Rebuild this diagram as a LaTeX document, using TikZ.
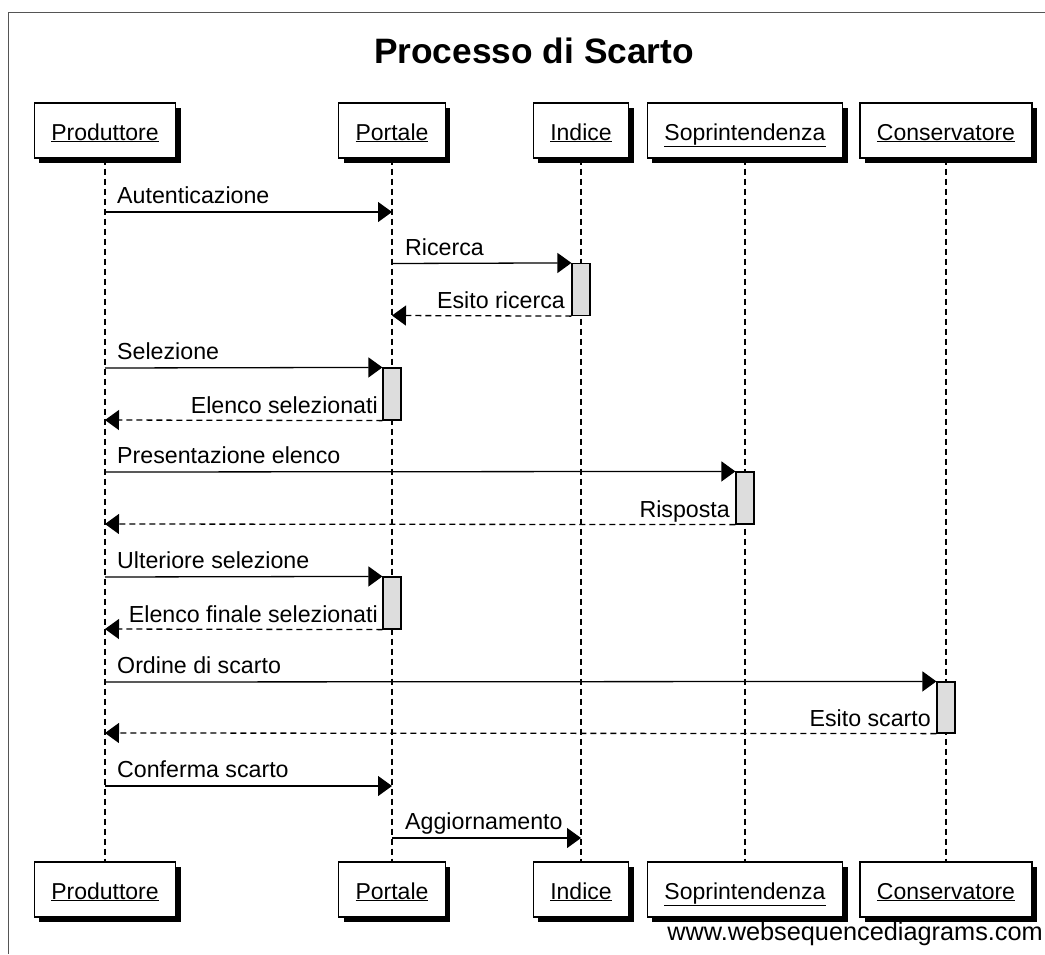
\documentclass[tikz,border=0pt]{standalone}
\usepackage{fontspec}
\setmainfont{Liberation Sans}
\usetikzlibrary{arrows.meta,shadows}
\definecolor{actfill}{HTML}{DDDDDD}
\definecolor{framec}{HTML}{555555}
\begin{document}
\begin{tikzpicture}[x=1pt,y=-1pt,
  actor/.style={draw=black, line width=1.2pt, fill=white, minimum height=55pt, inner xsep=17pt, inner ysep=0pt,
    text height=21pt, text depth=2pt,
    font=\fontsize{23}{27}\selectfont,
    drop shadow={shadow xshift=5pt, shadow yshift=-5pt, fill=black, opacity=1}},
  life/.style={line width=1.2pt, dash pattern=on 6pt off 4pt},
  act/.style={draw=black, line width=1.2pt, fill=actfill, minimum width=18pt, inner sep=0pt},
  msg/.style={line width=1.3pt, -{Triangle[length=14pt,width=20pt]}},
  ret/.style={msg, dash pattern=on 6pt off 4pt},
  lbl/.style={font=\fontsize{23.2}{27}\selectfont, inner sep=0pt, anchor=base west},
  rlbl/.style={lbl, anchor=base east},
  framel/.style={draw=framec, line width=1pt},
]
\useasboundingbox (0,0) rectangle (1045,954);
% frame
\coordinate (fTL) at (8,12);
\coordinate (fTR) at (1045,12);
\coordinate (fBL) at (8,954);
\draw[framel] (fTR) -- (fTL) -- (fBL);

% title
\node[font=\bfseries\fontsize{35.3}{40}\selectfont, anchor=base, inner sep=0pt] (title) at (534,63) {Processo di Scarto};

% actors top
\node[actor] (pT) at (105,130.5) {\underline{Produttore}};
\node[actor] (poT) at (392,130.5) {\underline{Portale}};
\node[actor] (iT) at (581,130.5) {\underline{Indice}};
\node[actor] (sT) at (745,130.5) {\underline{Soprintendenza}};
\node[actor] (cT) at (946,130.5) {\underline{Conservatore}};
% actors bottom
\node[actor] (pB) at (105,889.5) {\underline{Produttore}};
\node[actor] (poB) at (392,889.5) {\underline{Portale}};
\node[actor] (iB) at (581,889.5) {\underline{Indice}};
\node[actor] (sB) at (745,889.5) {\underline{Soprintendenza}};
\node[actor] (cB) at (946,889.5) {\underline{Conservatore}};

% lifelines
\draw[life] (pT.south) -- (pB.north);
\draw[life] (poT.south) -- (poB.north);
\draw[life] (iT.south) -- (iB.north);
\draw[life] (sT.south) -- (sB.north);
\draw[life] (cT.south) -- (cB.north);

% activations
\node[act, minimum height=52pt] (a1) at (581,289.5) {};
\node[act, minimum height=52pt] (a2) at (392,394) {};
\node[act, minimum height=52pt] (a3) at (745,498) {};
\node[act, minimum height=52pt] (a4) at (392,603) {};
\node[act, minimum height=51pt] (a5) at (946,707.5) {};

% message endpoints on lifelines
\coordinate (m1s) at (105,212);  \coordinate (m1e) at (392,212);
\coordinate (m2s) at (392,263.5);
\coordinate (m3e) at (392,315.5);
\coordinate (m4s) at (105,368);
\coordinate (m5e) at (105,420);
\coordinate (m6s) at (105,472);
\coordinate (m7e) at (105,524);
\coordinate (m8s) at (105,577);
\coordinate (m9e) at (105,629);
\coordinate (m10s) at (105,682);
\coordinate (m11e) at (105,733);
\coordinate (m12s) at (105,786); \coordinate (m12e) at (392,786);
\coordinate (m13s) at (392,838); \coordinate (m13e) at (581,838);

% messages
\draw[msg] (m1s) -- (m1e);
\node[lbl] (l1) at (117,203) {Autenticazione};
\draw[msg] (m2s) -- (a1.north west);
\node[lbl] (l2) at (405,255) {Ricerca};
\draw[ret] (a1.south west) -- (m3e);
\node[rlbl] (l3) at (565,308) {Esito ricerca};
\draw[msg] (m4s) -- (a2.north west);
\node[lbl] (l4) at (117,359) {Selezione};
\draw[ret] (a2.south west) -- (m5e);
\node[rlbl] (l5) at (378,413) {Elenco selezionati};
\draw[msg] (m6s) -- (a3.north west);
\node[lbl] (l6) at (117,463) {Presentazione elenco};
\draw[ret] (a3.south west) -- (m7e);
\node[rlbl] (l7) at (730,517) {Risposta};
\draw[msg] (m8s) -- (a4.north west);
\node[lbl] (l8) at (117,568) {Ulteriore selezione};
\draw[ret] (a4.south west) -- (m9e);
\node[rlbl] (l9) at (378,622) {Elenco finale selezionati};
\draw[msg] (m10s) -- (a5.north west);
\node[lbl] (l10) at (117,673) {Ordine di scarto};
\draw[ret] (a5.south west) -- (m11e);
\node[rlbl] (l11) at (931,726) {Esito scarto};
\draw[msg] (m12s) -- (m12e);
\node[lbl] (l12) at (117,777) {Conferma scarto};
\draw[msg] (m13s) -- (m13e);
\node[lbl] (l13) at (405,829) {Aggiornamento};

% watermark
\node[anchor=base east, inner sep=0pt, font=\fontsize{25.3}{28}\selectfont] (wm) at (1043,940) {www.websequencediagrams.com};
\end{tikzpicture}
\end{document}
